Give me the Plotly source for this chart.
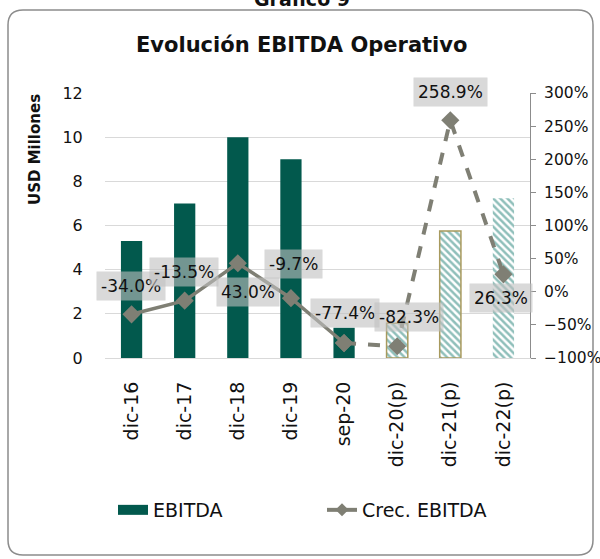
import plotly.graph_objects as go

# ---------------- data ----------------
categories = ["dic-16", "dic-17", "dic-18", "dic-19", "sep-20", "dic-20(p)", "dic-21(p)", "dic-22(p)"]
ebitda = [5.3, 7.0, 10.0, 9.0, 1.37, 1.57, 5.75, 7.23]
crec = [-34.0, -13.5, 43.0, -9.7, -77.4, -82.3, 258.9, 26.3]
crec_labels = ["-34.0%", "-13.5%", "43.0%", "-9.7%", "-77.4%", "-82.3%", "258.9%", "26.3%"]
n_actual = 5  # first 5 are actual, rest projected (p)

# ---------------- styling ----------------
FONT = "DejaVu Sans, sans-serif"
TEAL = "#02594D"
STRIPE = "#1F7F76"
GRAY_LINE = "#7F7F74"
GRID = "#D9D9D9"

W, H = 600, 559
L, R, T, B = 105, 70, 93, 201
PW, PH = W - L - R, H - T - B


def px(x):
    return (x - L) / PW


def py(y):
    return (H - B - y) / PH


fig = go.Figure()

# actual bars (solid)
fig.add_trace(go.Bar(
    x=categories[:n_actual], y=ebitda[:n_actual], name="EBITDA",
    marker=dict(color=TEAL, line=dict(width=0)),
    yaxis="y", showlegend=False,
))
# projected bars (hatched)
proj_cats = categories[n_actual:]
fig.add_trace(go.Bar(
    x=proj_cats, y=ebitda[n_actual:], name="EBITDA (p)",
    marker=dict(
        color="white",
        line=dict(color=["#A89A5E", "#A89A5E", "rgba(0,0,0,0)"], width=1.5),
        pattern=dict(shape="\\", fgcolor=STRIPE, bgcolor="white", size=5, solidity=0.5),
    ),
    yaxis="y", showlegend=False,
))

# growth line: solid part (actual), dashed part (projected)
fig.add_trace(go.Scatter(
    x=categories[:n_actual], y=crec[:n_actual], name="Crec. EBITDA",
    mode="lines+markers", yaxis="y2", showlegend=False,
    line=dict(color=GRAY_LINE, width=3.5),
    marker=dict(symbol="diamond", size=14, color=GRAY_LINE),
))
fig.add_trace(go.Scatter(
    x=categories[n_actual - 1:], y=crec[n_actual - 1:], name="Crec. EBITDA (p)",
    mode="lines+markers", yaxis="y2", showlegend=False,
    line=dict(color=GRAY_LINE, width=4, dash="dash"),
    marker=dict(symbol="diamond", size=14, color=GRAY_LINE),
))

# legend entries (legend-only traces, styled like the reference legend)
fig.add_trace(go.Scatter(
    x=[None], y=[None], name="EBITDA", mode="lines",
    line=dict(color=TEAL, width=11), showlegend=True,
))
fig.add_trace(go.Scatter(
    x=[None], y=[None], name="Crec. EBITDA", mode="lines+markers", yaxis="y2",
    line=dict(color=GRAY_LINE, width=4), marker=dict(symbol="diamond", size=10, color=GRAY_LINE),
    showlegend=True,
))

# data labels (offsets in pixels)
offsets = [(-1, 28), (-1, 29), (10, -29), (3, 34), (1, 30), (12, 29), (0, 28), (-2, -24)]
annotations = []
for cat, val, lab, (dx, dy) in zip(categories, crec, crec_labels, offsets):
    annotations.append(dict(
        x=cat, y=val, xref="x", yref="y2", text=lab, showarrow=False,
        xshift=dx, yshift=dy, bgcolor="rgba(191,191,191,0.6)", borderpad=4,
        font=dict(family=FONT, size=17, color="#111111"),
    ))

# titles
annotations.append(dict(
    x=px(301), y=py(45), xref="paper", yref="paper", text="<b>Evolución EBITDA Operativo</b>",
    showarrow=False, xanchor="center", yanchor="middle",
    font=dict(family=FONT, size=21, color="#111111"),
))
annotations.append(dict(
    x=px(302), y=py(12), xref="paper", yref="paper", text="<b>Gráfico 9</b>",
    showarrow=False, xanchor="center", yanchor="bottom",
    font=dict(family=FONT, size=19, color="#111111"),
))
annotations.append(dict(
    x=px(35), y=py(150), xref="paper", yref="paper", text="<b>USD Millones</b>",
    showarrow=False, xanchor="center", yanchor="middle", textangle=-90,
    font=dict(family=FONT, size=15, color="#111111"),
))

# rounded frame
x0, x1, y0, y1, r = px(8), px(593), py(10), py(555), 15
rx, ry = r / PW, r / PH
path = (f"M {x0 + rx},{y0} L {x1 - rx},{y0} Q {x1},{y0} {x1},{y0 - ry} "
        f"L {x1},{y1 + ry} Q {x1},{y1} {x1 - rx},{y1} "
        f"L {x0 + rx},{y1} Q {x0},{y1} {x0},{y1 + ry} "
        f"L {x0},{y0 - ry} Q {x0},{y0} {x0 + rx},{y0} Z")

fig.update_layout(
    width=W, height=H,
    margin=dict(l=L, r=R, t=T, b=B, autoexpand=False),
    paper_bgcolor="white", plot_bgcolor="white",
    font=dict(family=FONT, size=16, color="#111111"),
    barmode="overlay", bargap=0.6,
    annotations=annotations,
    shapes=[dict(type="path", path=path, xref="paper", yref="paper",
                 line=dict(color="#8C8C8C", width=1.5), fillcolor="rgba(0,0,0,0)", layer="below")],
    xaxis=dict(
        type="category", categoryorder="array", categoryarray=categories,
        range=[-0.5, len(categories) - 0.5], autorange=False,
        tickangle=-90, tickfont=dict(family=FONT, size=19),
        showline=True, linecolor=GRID, linewidth=1,
        ticks="outside", ticklen=15, tickcolor="rgba(0,0,0,0)",
        showgrid=False,
    ),
    yaxis=dict(
        range=[0, 12], dtick=2, showgrid=True, gridcolor=GRID, gridwidth=1,
        zeroline=False, showline=False,
        ticks="outside", ticklen=18, tickcolor="rgba(0,0,0,0)",
        tickfont=dict(family=FONT, size=16),
    ),
    yaxis2=dict(
        range=[-100, 300], dtick=50, overlaying="y", side="right",
        ticksuffix="%", showgrid=False, zeroline=False,
        showline=True, linecolor="#8C8C8C", linewidth=1,
        ticks="outside", ticklen=5, tickcolor="#8C8C8C", ticklabelstandoff=5,
        tickfont=dict(family=FONT, size=15.5),
    ),
    legend=dict(
        orientation="h", x=px(113), y=py(510), xanchor="left", yanchor="middle",
        entrywidth=164, entrywidthmode="pixels",
        font=dict(family=FONT, size=19), bgcolor="rgba(0,0,0,0)",
        traceorder="normal",
    ),
)

fig.write_html(
    "out.html",
    config={"displayModeBar": False},
    post_script="document.body.style.margin='0';document.body.style.overflow='hidden';",
)
